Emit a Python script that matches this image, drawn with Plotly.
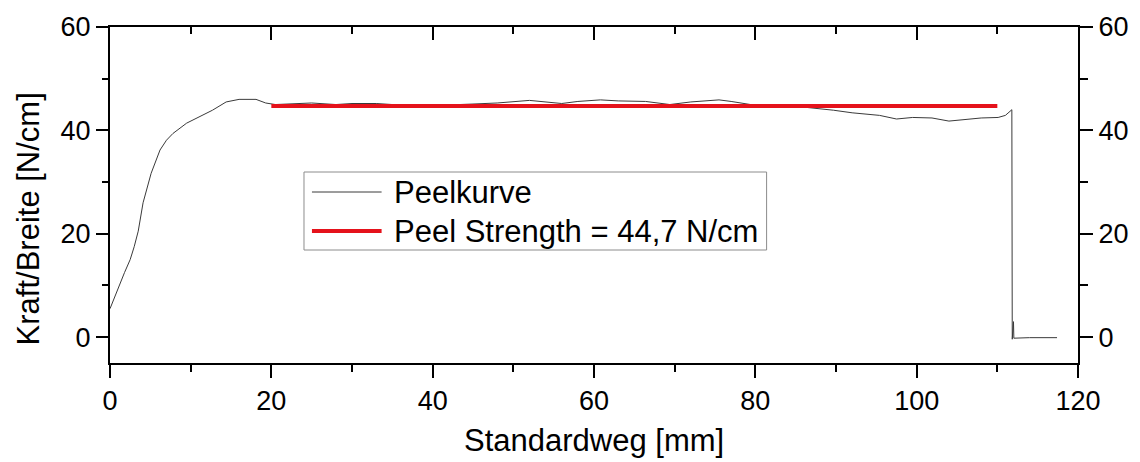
import plotly.graph_objects as go

# Peel test: force per width over crosshead travel
weg_mm = [0.0, 0.5, 1.0, 1.8, 2.5, 3.0, 3.5, 4.1, 5.1, 6.2, 7.0, 7.8, 9.5, 11.1, 12.7,
          14.4, 16.0, 18.1, 19.3, 20.5, 22.0, 25.0, 28.0, 30.0, 33.0, 36.0, 40.0,
          43.0, 45.0, 48.0, 52.0, 56.0, 58.0, 60.8, 63.0, 66.4, 69.4, 72.0, 75.5,
          77.0, 79.4, 82.0, 86.0, 89.7, 92.0, 95.4, 97.5, 99.5, 101.9, 104.0,
          106.2, 108.0, 110.1, 111.0, 111.8, 111.85, 112.0, 112.05, 114.0, 117.4]
kraft_n_cm = [5.5, 7.5, 9.5, 12.5, 15.0, 17.5, 20.5, 26.0, 31.7, 36.2, 38.1, 39.4,
              41.4, 42.6, 43.9, 45.5, 46.0, 46.0, 45.3, 45.0, 45.1, 45.3, 45.0,
              45.2, 45.2, 44.9, 44.8, 44.9, 45.1, 45.3, 45.8, 45.2, 45.6, 45.9,
              45.7, 45.6, 45.0, 45.5, 45.9, 45.6, 45.0, 44.7, 44.5, 43.9, 43.4,
              42.9, 42.2, 42.5, 42.4, 41.8, 42.1, 42.4, 42.5, 42.9, 44.0, -0.4,
              3.0, -0.2, -0.1, -0.1]

# Mean peel strength over the evaluation window
peel_strength = 44.7
auswertung_mm = [20.0, 110.0]

x_ticks = [0, 20, 40, 60, 80, 100, 120]
y_ticks = [0, 20, 40, 60]

FONT = "Arial, Liberation Sans, sans-serif"
CURVE_COLOR = "#3a3a3a"
RED = "#e5121b"

# plot-area geometry in pixels
W, H = 1140, 462
L, R, T, B = 110, 57, 27, 99
PW, PH = W - L - R, H - T - B


def px_x(px):
    return (px - L) / PW


def px_y(py):
    return (H - B - py) / PH


fig = go.Figure()
fig.add_trace(go.Scatter(x=weg_mm, y=kraft_n_cm, mode="lines",
                         line=dict(color=CURVE_COLOR, width=1),
                         name="Peelkurve", showlegend=False))
fig.add_trace(go.Scatter(x=auswertung_mm, y=[peel_strength] * len(auswertung_mm),
                         mode="lines", line=dict(color=RED, width=4),
                         name=f"Peel Strength = {peel_strength:.1f} N/cm".replace(".", ","),
                         showlegend=False))
# carrier trace so the mirrored axes are drawn
fig.add_trace(go.Scatter(x=[None], y=[None], xaxis="x2", yaxis="y2",
                         showlegend=False, hoverinfo="skip"))

axis_common = dict(showline=True, linewidth=2, linecolor="black", showgrid=False,
                   zeroline=False, tickwidth=2, tickcolor="black",
                   tickfont=dict(family=FONT, size=27, color="black"))

fig.update_layout(
    width=W, height=H,
    margin=dict(l=L, r=R, t=T, b=B, pad=0),
    plot_bgcolor="white", paper_bgcolor="white",
    showlegend=False,
    xaxis=dict(range=[0, 120], tickvals=x_ticks, ticks="outside", ticklen=13,
               minor=dict(ticks="outside", ticklen=7, tickwidth=2, dtick=10,
                          tickcolor="black"),
               **axis_common),
    xaxis2=dict(range=[0, 120], overlaying="x", side="top", tickvals=x_ticks,
                ticks="inside", ticklen=13, showticklabels=False,
                minor=dict(ticks="inside", ticklen=7, tickwidth=2, dtick=10,
                           tickcolor="black"),
                **axis_common),
    yaxis=dict(range=[-5, 60], tickvals=y_ticks, ticks="outside", ticklen=12,
               minor=dict(ticks="outside", ticklen=6, tickwidth=2, dtick=10,
                          tickcolor="black"),
               **axis_common),
    yaxis2=dict(range=[-5, 60], overlaying="y", side="right", tickvals=y_ticks,
                ticks="outside", ticklen=13,
                minor=dict(ticks="outside", ticklen=8, tickwidth=2, dtick=10,
                           tickcolor="black"),
                **axis_common),
)

# axis titles
fig.add_annotation(text="Standardweg [mm]", xref="paper", yref="paper",
                   x=px_x(597), y=px_y(440), xanchor="center", yanchor="middle",
                   showarrow=False, font=dict(family=FONT, size=31, color="black"))
fig.add_annotation(text="Kraft/Breite [N/cm]", xref="paper", yref="paper",
                   x=px_x(28), y=px_y(219), xanchor="center", yanchor="middle",
                   textangle=-90, showarrow=False,
                   font=dict(family=FONT, size=31, color="black"))

# legend box with swatches
fig.add_shape(type="rect", xref="paper", yref="paper",
              x0=px_x(305), x1=px_x(770), y0=px_y(250), y1=px_y(172),
              line=dict(color="#8c8c8c", width=1), fillcolor="white", layer="above")
legend_rows = [("Peelkurve", CURVE_COLOR, 1, 192),
               (f"Peel Strength = {peel_strength:.1f} N/cm".replace(".", ","), RED, 4, 231)]
for label, color, lw, ypx in legend_rows:
    fig.add_shape(type="line", xref="paper", yref="paper",
                  x0=px_x(313), x1=px_x(383), y0=px_y(ypx), y1=px_y(ypx),
                  line=dict(color=color, width=lw), layer="above")
    fig.add_annotation(text=label, xref="paper", yref="paper",
                       x=px_x(393), y=px_y(ypx), xanchor="left", yanchor="middle",
                       showarrow=False, font=dict(family=FONT, size=31, color="black"))

fig.write_html("out.html")
